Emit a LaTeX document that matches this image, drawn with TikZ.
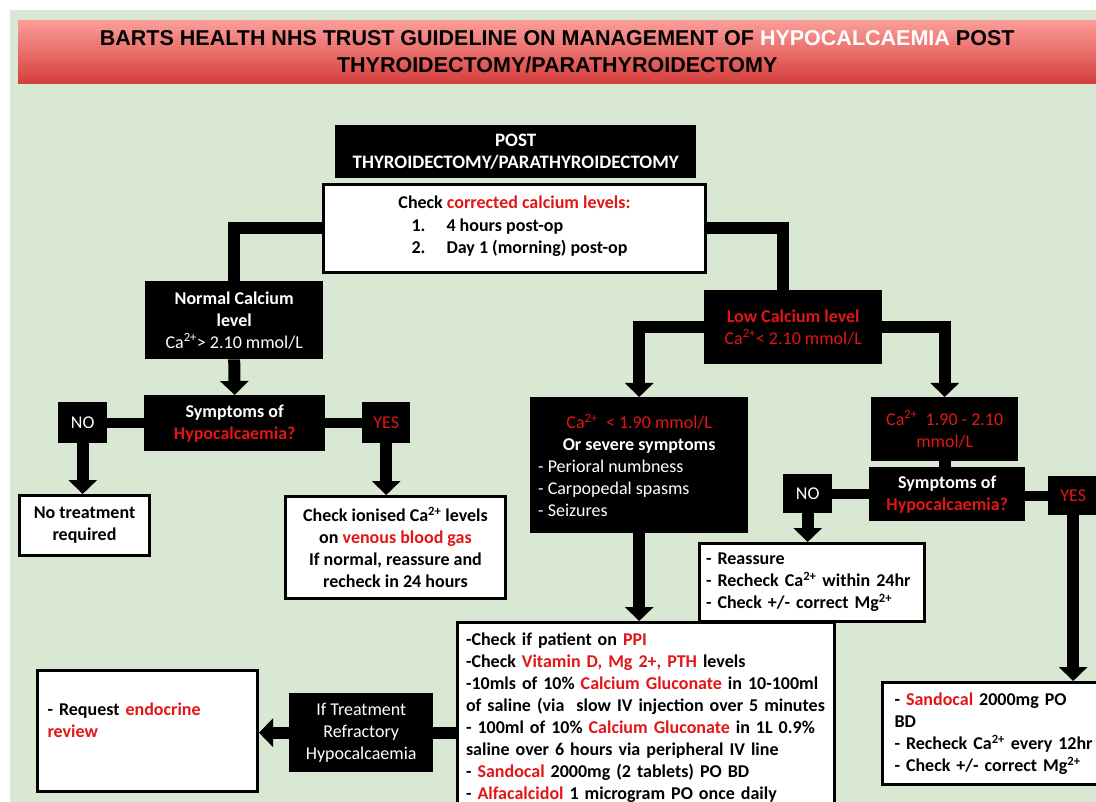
\documentclass[tikz,border=0pt]{standalone}
\usepackage{fontspec}
\setmainfont{Carlito}
\newfontfamily\titlefont{Liberation Sans}
\usetikzlibrary{arrows.meta}
\definecolor{myred}{RGB}{226,22,22}
\definecolor{bggreen}{RGB}{217,232,211}
\definecolor{bantop}{RGB}{252,158,154}
\definecolor{banbot}{RGB}{213,62,60}
\newcommand\rd[1]{\textcolor{myred}{#1}}
\newcommand\sq{\textsuperscript{2+}}
\pgfdeclarelayer{backlayer}
\pgfdeclarelayer{connlayer}
\pgfsetlayers{backlayer,connlayer,main}
\begin{document}
\begin{tikzpicture}[x=1pt,y=-1pt,
  every node/.style={font=\fontsize{18}{22}\selectfont},
  bold/.style={font=\bfseries\fontsize{18}{22}\selectfont},
  blk/.style={fill=black,text=white,inner sep=0pt,anchor=north west,align=center},
  wbox/.style={fill=white,draw=black,line width=3pt,inner sep=0pt,anchor=north west,align=center},
  conn/.style={line width=12pt,draw=black},
  bar/.style={line width=10pt,draw=black},
  arr/.style={conn,-{Triangle[width=28pt,length=14pt]}}
]
\useasboundingbox (0,0) rectangle (1096,802);
\begin{pgfonlayer}{backlayer}
\fill[white] (0,0) rectangle (1096,802);
\fill[bggreen] (10,10) rectangle (1096,802);
\end{pgfonlayer}

\node[anchor=north west, minimum width=1078pt, minimum height=63pt, inner sep=0pt,
  top color=bantop, bottom color=banbot, align=center,
  font=\titlefont\bfseries\fontsize{21.5}{27}\selectfont] (banner) at (18,20)
  {BARTS HEALTH NHS TRUST GUIDELINE ON MANAGEMENT OF \textcolor{white}{HYPOCALCAEMIA} POST\\THYROIDECTOMY/PARATHYROIDECTOMY};

\node[blk, minimum width=361pt, minimum height=53pt, font=\bfseries\fontsize{19}{22}\selectfont] (post) at (335,125)
  {POST\\THYROIDECTOMY/PARATHYROIDECTOMY};

\node[wbox, minimum width=382pt, minimum height=88pt, font=\bfseries\fontsize{18}{22.5}\selectfont] (chk) at (322,183)
  {Check \rd{corrected calcium levels:}\\
   \begin{tabular}[t]{@{\hspace{10pt}}p{35pt}@{}l@{}}1. & 4 hours post-op\\ 2. & Day 1 (morning) post-op\end{tabular}};

\node[blk, minimum width=178pt, minimum height=78pt] (norm) at (145,281)
  {\textbf{Normal Calcium}\\\textbf{level}\\Ca\sq> 2.10 mmol/L};
\node[blk, bold, minimum width=181pt, minimum height=56pt] (sym1) at (144,395)
  {Symptoms of\\\rd{Hypocalcaemia?}};
\node[blk, minimum width=49pt, minimum height=41pt] (no1) at (58,402) {NO};
\node[blk, minimum width=48pt, minimum height=41pt] (yes1) at (362,402) {\rd{YES}};
\node[wbox, bold, minimum width=130pt, minimum height=60pt] (notr) at (18,494)
  {No treatment\\required};
\node[wbox, bold, minimum width=220pt, minimum height=102pt] (ion) at (284,495)
  {Check ionised Ca\sq{} levels\\on \rd{venous blood gas}\\If normal, reassure and\\recheck in 24 hours};

\node[blk, minimum width=178pt, minimum height=74pt] (low) at (704,290)
  {\rd{\textbf{Low Calcium level}}\\\rd{Ca\sq< 2.10 mmol/L}};
\node[blk, minimum width=218pt, minimum height=136pt] (lt) at (530,397)
  {\rd{Ca\sq\ \ < 1.90 mmol/L}\\\textbf{Or severe symptoms}\\
   \makebox[202pt][l]{- Perioral numbness}\\\makebox[202pt][l]{- Carpopedal spasms}\\\makebox[202pt][l]{- Seizures}};
\node[blk, minimum width=147pt, minimum height=64pt] (mid) at (871,397)
  {\rd{Ca\sq\ \ 1.90 - 2.10}\\\rd{mmol/L}};
\node[blk, bold, minimum width=156pt, minimum height=54pt] (sym2) at (869,467)
  {Symptoms of\\\rd{Hypocalcaemia?}};
\node[blk, minimum width=49pt, minimum height=39pt] (no2) at (783,474) {NO};
\node[blk, minimum width=50pt, minimum height=39pt] (yes2) at (1048,476) {\rd{YES}};
\node[wbox, bold, minimum width=225pt, minimum height=78pt, align=left, text width=212pt] (reas) at (698,542)
  {- Reassure\\- Recheck Ca\sq{} within 24hr\\- Check +/- correct Mg\sq};

\node[wbox, bold, minimum width=377pt, minimum height=190pt, align=left, text width=360pt] (main) at (456,621)
  {-Check if patient on \rd{PPI}\\
   -Check \rd{Vitamin D, Mg 2+, PTH} levels\\
   -10mls of 10\% \rd{Calcium Gluconate} in 10-100ml\\
   of saline (via\ \ slow IV injection over 5 minutes\\
   - 100ml of 10\% \rd{Calcium Gluconate} in 1L 0.9\%\\
   saline over 6 hours via peripheral IV line\\
   - \rd{Sandocal} 2000mg (2 tablets) PO BD\\
   - \rd{Alfacalcidol} 1 microgram PO once daily};

\node[wbox, bold, minimum width=219pt, minimum height=102pt, align=left, text width=205pt, inner xsep=12pt] (sand) at (881,681)
  {- \rd{Sandocal} 2000mg PO\\BD\\- Recheck Ca\sq{} every 12hr\\- Check +/- correct Mg\sq};

\node[blk, minimum width=144pt, minimum height=79pt] (ift) at (289,693)
  {If Treatment\\Refractory\\Hypocalcaemia};
\node[wbox, bold, minimum width=220pt, minimum height=121pt, align=left, text width=200pt] (endo) at (36,669)
  {- Request \rd{endocrine}\\\rd{review}\\\mbox{}};

\begin{pgfonlayer}{connlayer}
\draw[conn] (chk.west) -| (norm.north);
\draw[conn] (chk.east) -| ([xshift=-10pt]low.north);
\draw[arr] (norm.south) -- (sym1.north);
\draw[bar] (no1.east) -- (no1.east -| sym1.west);
\draw[bar] (yes1.west -| sym1.east) -- (yes1.west);
\draw[arr] (no1.south) -- (no1.south |- notr.north);
\draw[arr] (yes1.south) -- (yes1.south |- ion.north);
\draw[arr] (low.west) -| (lt.north);
\draw[arr] (low.east) -| (mid.north);
\draw[conn] (mid.south) -- (mid.south |- sym2.north);
\draw[bar] (no2.east) -- (no2.east -| sym2.west);
\draw[bar] (yes2.west -| sym2.east) -- (yes2.west);
\draw[arr] (no2.south) -- (no2.south |- reas.north);
\draw[arr] (yes2.south) -- (yes2.south |- sand.north);
\draw[arr] (lt.south) -- (lt.south |- main.north);
\draw[conn] (main.west |- ift.east) -- (ift.east);
\draw[arr] (ift.west) -- (ift.west -| endo.east);
\end{pgfonlayer}
\end{tikzpicture}
\end{document}
